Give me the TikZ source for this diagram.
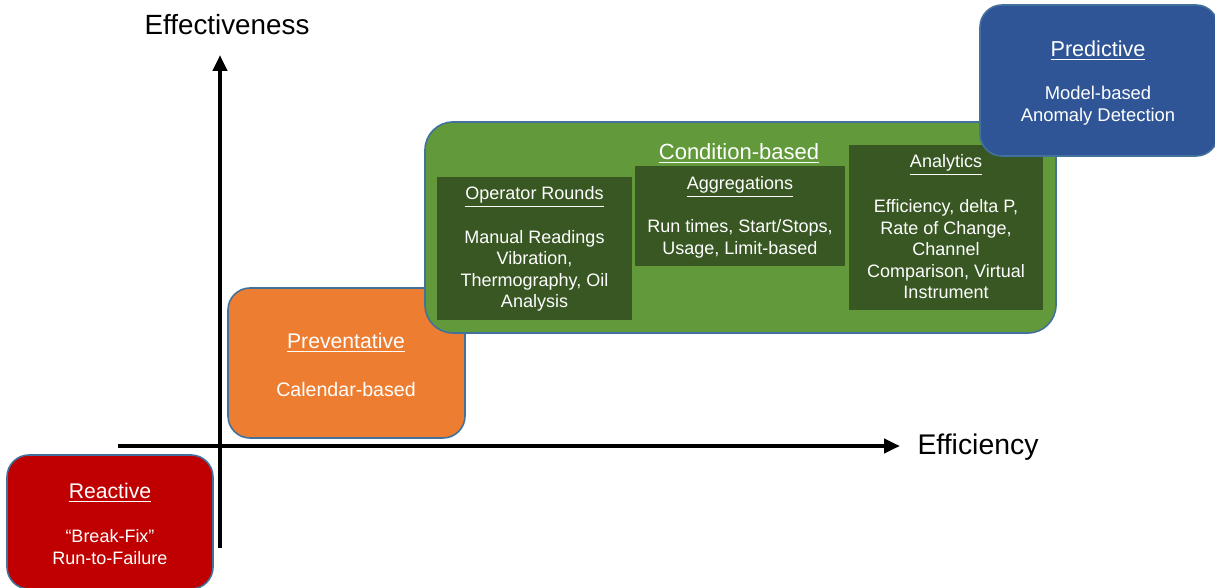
\documentclass[tikz,border=0pt]{standalone}
\usepackage{fontspec}
\setmainfont{Liberation Sans}
\usetikzlibrary{arrows.meta}
\definecolor{reactred}{HTML}{C00000}
\definecolor{prevorange}{HTML}{ED7D31}
\definecolor{condgreen}{HTML}{62993B}
\definecolor{darkgreen}{HTML}{385723}
\definecolor{predblue}{HTML}{2F5597}
\definecolor{rimblue}{HTML}{41719C}
\tikzset{
  stage/.style={draw=rimblue, line width=0.8pt, rounded corners=11pt, anchor=north west,
    inner sep=0pt, outer sep=0pt},
  subbox/.style={fill=darkgreen, anchor=north west, inner sep=0pt, outer sep=0pt},
  lbl/.style={text=white, font=\fontsize{10.6}{12}\selectfont},
  txt/.style={text=white, align=center, font=\fontsize{9}{10.75}\selectfont},
  axis/.style={line width=2pt, -{Triangle[length=8pt,width=7pt]}},
  axlbl/.style={font=\fontsize{13.9}{16}\selectfont}
}
\begin{document}
\begin{tikzpicture}[x=0.5pt,y=-0.5pt]
\useasboundingbox (0,0) rectangle (1215,588);
% axes
\coordinate (xstart) at (118,446);
\coordinate (xend) at (900,446);
\coordinate (ystart) at (220,548);
\coordinate (yend) at (220,55);
\draw [axis] (xstart) -- (xend);
\draw [axis] (ystart) -- (yend);
\node [axlbl] (efflbl) at (227,25) {Effectiveness};
\node [axlbl, font=\fontsize{14.2}{16}\selectfont] (ecylbl) at (978,447) {Efficiency};
% reactive
\node [stage, fill=reactred, minimum width=103pt, minimum height=67pt] (reactive) at (7,455) {};
\node [lbl] (reacttitle) at (110,493) {\underline{Reactive}};
\node [txt] (reacttext) at (110,547) {``Break-Fix''\\Run-to-Failure};
% preventative
\node [stage, fill=prevorange, minimum width=118.5pt, minimum height=75pt] (prevent) at (228,288) {};
\node [lbl] (preventtitle) at (346,343) {\underline{Preventative}};
\node [lbl, font=\fontsize{9.8}{12}\selectfont] (preventtext) at (346,389) {Calendar-based};
% condition-based
\node [stage, fill=condgreen, rounded corners=14pt, minimum width=315.5pt, minimum height=105.5pt] (condition) at (425,122) {};
\node [lbl, font=\fontsize{11}{12}\selectfont] (condtitle) at (739,154) {\underline{Condition-based}};
\node [subbox, minimum width=97.5pt, minimum height=71.5pt] (rounds) at (437,177) {};
\node [txt] (roundstitle) at (534.5,197) {\underline{Operator Rounds}};
\node [txt] (roundstext) at (534.5,271) {Manual Readings\\Vibration,\\Thermography, Oil\\Analysis};
\node [subbox, minimum width=105pt, minimum height=50pt] (aggreg) at (635,166) {};
\node [txt] (aggregtitle) at (740,187) {\underline{Aggregations}};
\node [txt] (aggregtext) at (740,239) {Run times, Start/Stops,\\Usage, Limit-based};
\node [subbox, minimum width=97pt, minimum height=82.5pt] (analytics) at (849,145) {};
\node [txt] (analyticstitle) at (946,165) {\underline{Analytics}};
\node [txt] (analyticstext) at (946,249.5) {Efficiency, delta P,\\Rate of Change,\\Channel\\Comparison, Virtual\\Instrument};
% predictive
\node [stage, fill=predblue, minimum width=119pt, minimum height=75.5pt] (predict) at (980,5) {};
\node [lbl, font=\fontsize{10.8}{12}\selectfont] (predtitle) at (1098,51) {\underline{Predictive}};
\node [txt, font=\fontsize{9.2}{10.75}\selectfont] (predtext) at (1098,105.5) {Model-based\\Anomaly Detection};
\end{tikzpicture}
\end{document}
